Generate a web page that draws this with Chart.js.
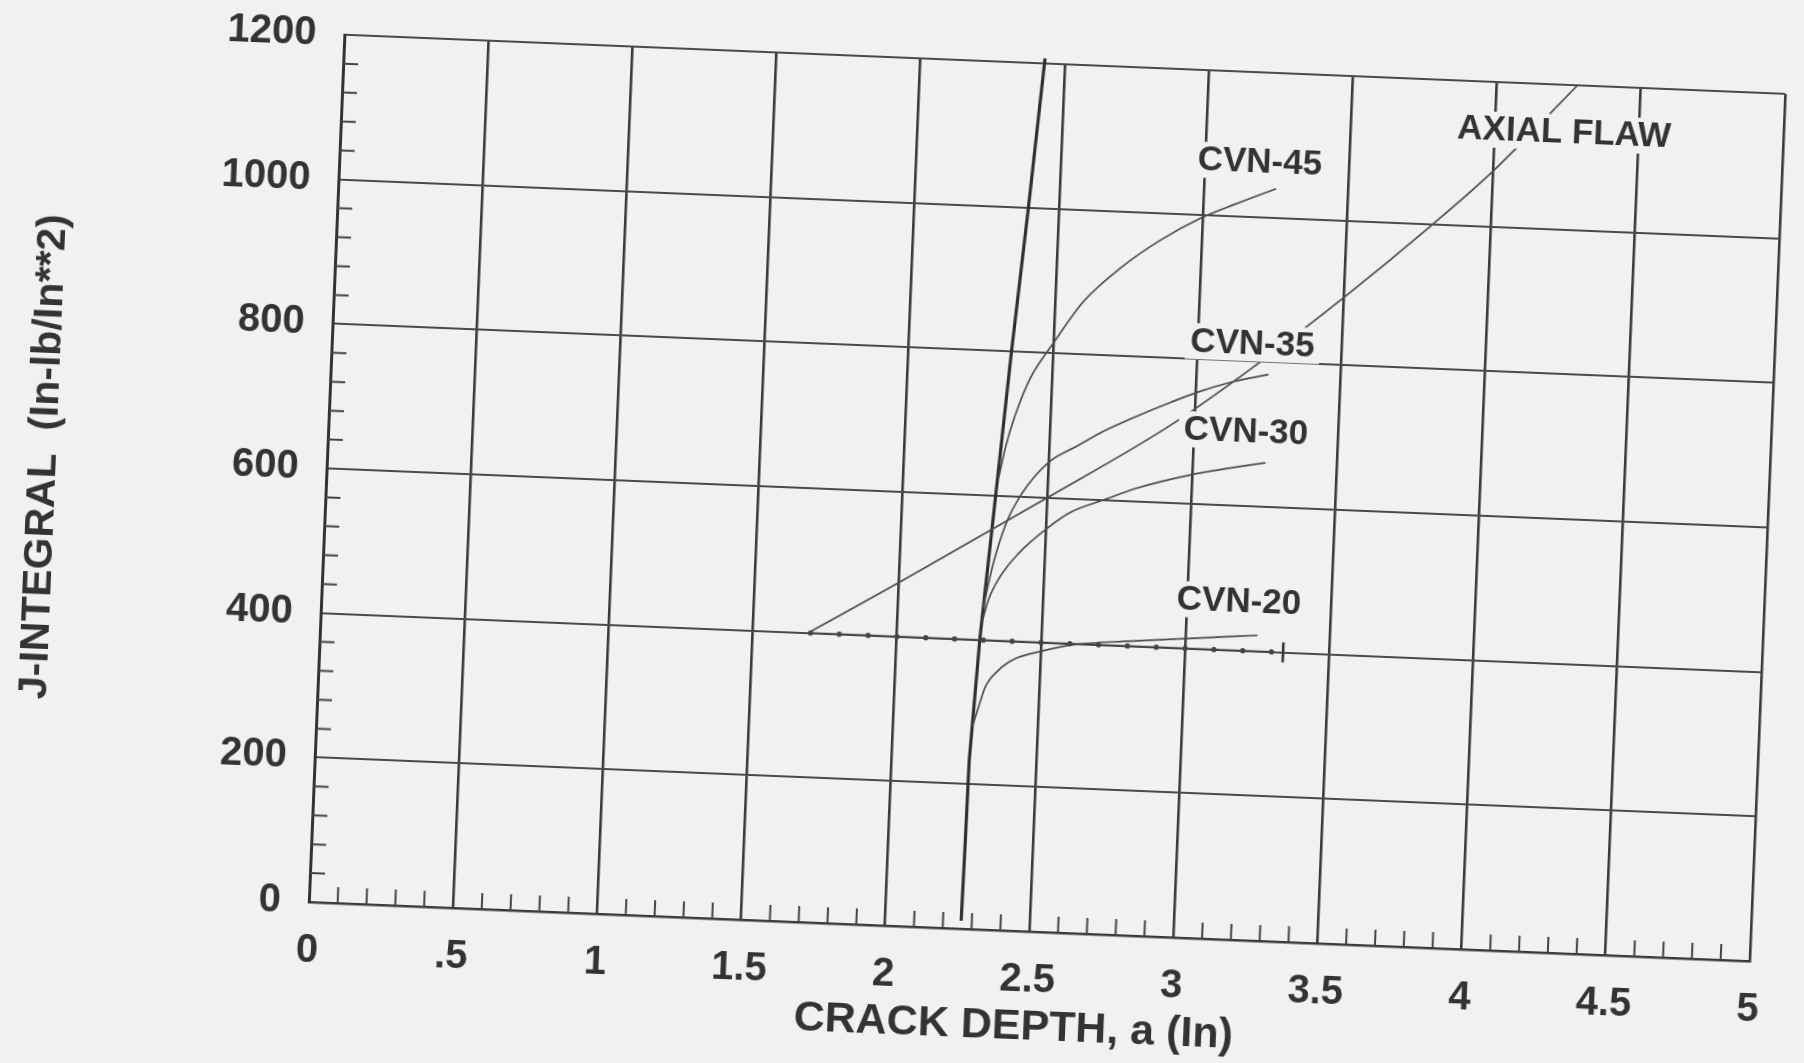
<!DOCTYPE html>
<html>
<head>
<meta charset="utf-8">
<script src="https://cdn.jsdelivr.net/npm/chart.js@4.4.1/dist/chart.umd.min.js"></script>
<style>
  html, body { margin: 0; padding: 0; background: #f1f1f1; overflow: hidden; }
  #wrap { position: absolute; left: 0; top: 0; width: 1804px; height: 1063px;
          transform: rotate(2.35deg); transform-origin: 1049px 498px; }
  canvas { display: block; }
</style>
</head>
<body>
<div id="wrap"><canvas id="c" width="1804" height="1063"></canvas></div>
<script>
// ---- data ----
const xTickLabels = ['0', '.5', '1', '1.5', '2', '2.5', '3', '3.5', '4', '4.5', '5'];
const yTickLabels = ['0', '200', '400', '600', '800', '1000', '1200'];

const steepX = [2.263, 2.266, 2.268, 2.288, 2.322, 2.356, 2.394, 2.431];
const steepY = [11, 122, 233, 404, 600, 798, 997, 1207];

const axialX = [1.70, 2.00, 2.50, 2.92, 3.22, 3.51, 3.79, 3.99, 4.28];
const axialY = [402, 475, 600, 708, 800, 897, 997, 1073, 1200];

const cvn45X = [2.330, 2.350, 2.378, 2.426, 2.500, 2.600, 2.726, 2.855, 2.997, 3.114, 3.250];
const cvn45Y = [625, 669, 712, 765, 814, 874, 923, 962, 996, 1017, 1040];

const cvn35X = [2.295, 2.32, 2.36, 2.41, 2.50, 2.60, 2.69, 2.80, 2.915, 3.01, 3.12, 3.25];
const cvn35Y = [445, 500, 560, 603, 649, 674, 696, 718, 739, 755, 770, 783];

const cvn30X = [2.293, 2.311, 2.348, 2.408, 2.508, 2.586, 2.700, 2.813, 2.995, 3.252];
const cvn30Y = [425, 455, 488, 521, 559, 582, 601, 619, 640, 661];

const cvn20X = [2.274, 2.2925, 2.313, 2.356, 2.412, 2.503, 2.617, 2.812, 3.042, 3.249];
const cvn20Y = [280, 307, 335, 359, 376, 388, 399, 407, 415, 422];

const jLineX = [1.7, 1.8, 1.9, 2.0, 2.1, 2.2, 2.3, 2.4, 2.5, 2.6, 2.7, 2.8, 2.9, 3.0, 3.1, 3.2, 3.3];
const jLineY = [400, 400, 400, 400, 400, 400, 400, 400, 400, 400, 400, 400, 400, 400, 400, 400, 400];
const jEndX = [3.34];
const jEndY = [400];

const curveLabels = ['CVN-45', 'CVN-35', 'CVN-30', 'CVN-20', 'AXIAL FLAW'];
const labelX = [3.19, 3.19, 3.18, 3.18, 4.24];
const labelY = [1076, 825, 703, 468, 1134];

const X_MINOR = 0.1;
const Y_MINOR = 40;

// ---- helpers ----
const pts = (xs, ys) => xs.map((x, i) => ({x: x, y: ys[i]}));
const FONT = '"Liberation Sans", Arial, Helvetica, sans-serif';
const INK = '#333333';
const BG = '#f1f1f1';

const minorTicks = {
  id: 'minorTicks',
  beforeDatasetsDraw(chart) {
    const {ctx, chartArea: a, scales: {x, y}} = chart;
    ctx.save();
    ctx.strokeStyle = '#444';
    ctx.lineWidth = 2;
    ctx.beginPath();
    const nx = Math.round((x.max - x.min) / X_MINOR);
    for (let i = 1; i < nx; i++) {
      if (i % 5 === 0) continue;
      const px = x.getPixelForValue(x.min + i * X_MINOR);
      ctx.moveTo(px, a.bottom);
      ctx.lineTo(px, a.bottom - 16);
    }
    const ny = Math.round((y.max - y.min) / Y_MINOR);
    for (let j = 1; j < ny; j++) {
      if (j % 5 === 0) continue;
      const py = y.getPixelForValue(y.min + j * Y_MINOR);
      ctx.moveTo(a.left, py);
      ctx.lineTo(a.left + 15, py);
    }
    ctx.stroke();
    ctx.restore();
  }
};

const textLabels = {
  id: 'textLabels',
  afterDatasetsDraw(chart) {
    const {ctx, scales: {x, y}} = chart;
    ctx.save();
    ctx.font = 'bold 35px ' + FONT;
    ctx.textAlign = 'center';
    ctx.textBaseline = 'middle';
    curveLabels.forEach((t, i) => {
      const px = x.getPixelForValue(labelX[i]);
      const py = y.getPixelForValue(labelY[i]);
      const w = ctx.measureText(t).width;
      ctx.fillStyle = BG;
      ctx.fillRect(px - w / 2 - 5, py - 18, w + 10, 36);
      ctx.fillStyle = INK;
      ctx.fillText(t, px, py + 1);
    });
    ctx.restore();
  }
};

const curve = (label, xs, ys, extra) => Object.assign({
  label: label,
  data: pts(xs, ys),
  showLine: true,
  borderColor: '#4d4d4d',
  borderWidth: 1.7,
  pointRadius: 0,
  cubicInterpolationMode: 'monotone',
  fill: false
}, extra || {});

new Chart(document.getElementById('c'), {
  type: 'scatter',
  data: {
    datasets: [
      curve('J = 400', jLineX, jLineY, {borderColor: '#444', borderWidth: 1.8, pointRadius: 2.6,
            pointBackgroundColor: '#444', pointBorderWidth: 0, cubicInterpolationMode: 'default', tension: 0}),
      curve('end', jEndX, jEndY, {showLine: false, pointStyle: 'line', rotation: 90, pointRadius: 10,
            pointBorderColor: '#333', pointBorderWidth: 2.6}),
      curve('CVN-20', cvn20X, cvn20Y),
      curve('CVN-30', cvn30X, cvn30Y),
      curve('CVN-35', cvn35X, cvn35Y),
      curve('CVN-45', cvn45X, cvn45Y),
      curve('AXIAL FLAW', axialX, axialY),
      curve('limit', steepX, steepY, {borderColor: '#2f2f2f', borderWidth: 3.2, cubicInterpolationMode: 'default',
            tension: 0, clip: 12})
    ]
  },
  options: {
    responsive: false,
    animation: false,
    devicePixelRatio: 1,
    layout: { padding: { left: 0, top: 64, right: 32, bottom: 0 } },
    plugins: { legend: { display: false }, tooltip: { enabled: false } },
    scales: {
      x: {
        type: 'linear', min: 0, max: 5,
        afterFit(s) { s.height = 131; },
        ticks: {
          stepSize: 0.5, autoSkip: false, maxRotation: 0, padding: 25,
          color: INK, font: { family: FONT, size: 40, weight: 'bold' },
          callback: (v, i) => xTickLabels[i]
        },
        grid: { color: '#3a3a3a', lineWidth: 2.6, drawTicks: false },
        border: { color: '#3a3a3a', width: 2.4 },
        title: {
          display: true, text: 'CRACK DEPTH, a (In)  ', color: INK,
          font: { family: FONT, size: 43, weight: 'bold' },
          padding: { top: 0, bottom: 9 }
        }
      },
      y: {
        type: 'linear', min: 0, max: 1200,
        afterFit(s) { s.width = 326; },
        ticks: {
          stepSize: 200, autoSkip: false, padding: 28,
          color: INK, font: { family: FONT, size: 40, weight: 'bold' },
          callback: (v, i) => yTickLabels[i]
        },
        grid: { color: '#4a4a4a', lineWidth: 1.9, drawTicks: false },
        border: { color: '#333', width: 3 },
        title: {
          display: true, text: 'J-INTEGRAL  (In-lb/In**2)', color: INK,
          font: { family: FONT, size: 41, weight: 'bold' },
          padding: { top: 19, bottom: 0 }
        }
      }
    }
  },
  plugins: [minorTicks, textLabels]
});
</script>
</body>
</html>
